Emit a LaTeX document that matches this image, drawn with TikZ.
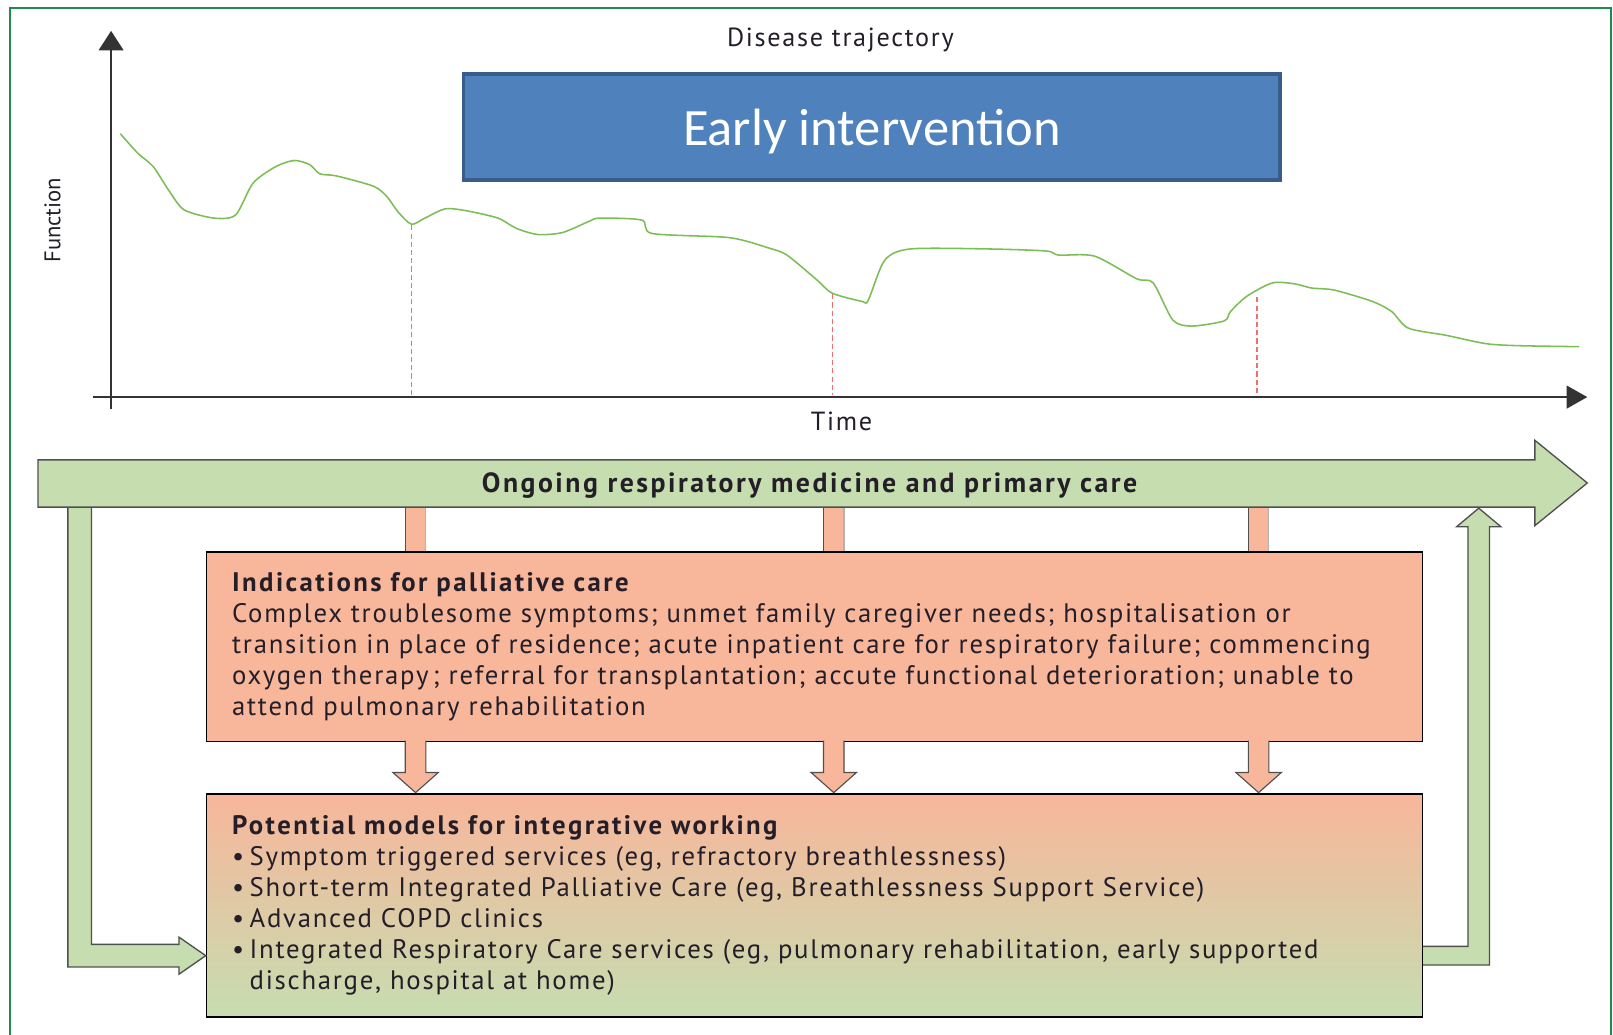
\documentclass[tikz,border=0pt]{standalone}
\usepackage{fontspec}
\setmainfont{PT Sans}[LetterSpace=6.5,BoldFeatures={LetterSpace=9}]
\newfontfamily\calfont{Carlito}
\newfontfamily\plainfont{PT Sans}
\usetikzlibrary{arrows.meta}
\definecolor{framegreen}{RGB}{30,140,80}
\definecolor{bluefill}{RGB}{79,129,189}
\definecolor{blueedge}{RGB}{56,93,138}
\definecolor{greenfill}{RGB}{198,221,176}
\definecolor{pinkfill}{RGB}{248,182,155}
\definecolor{curvegreen}{RGB}{122,190,84}
\definecolor{dashred}{RGB}{240,110,110}
\definecolor{edgegray}{RGB}{80,80,80}
\definecolor{txt}{RGB}{35,30,40}
\begin{document}
\begin{tikzpicture}[x=1pt,y=-1pt,
  axisline/.style={line width=2pt,black!80},
  marker/.style={dashred,line width=1.3pt,dash pattern=on 5pt off 3pt},
  blockarrow/.style={fill=greenfill,draw=edgegray,line width=1.3pt,line join=miter},
  pinkarrow/.style={fill=pinkfill,draw=edgegray,line width=1.1pt,line join=miter},
  infobox/.style={draw=black,line width=1.4pt,text width=1132pt,align=left,inner xsep=25pt,inner ysep=0pt,
    font=\fontsize{26}{30}\selectfont,text=txt,anchor=north west},
  lbl/.style={font=\fontsize{25.5}{28}\selectfont,text=txt,inner sep=0pt}]
\useasboundingbox (0,0) rectangle (1568,1006);
\fill[white] (0,0) rectangle (1568,1006);
% outer frame
\draw[framegreen,line width=1.6pt] (10,1020) -- (10,8) -- (1566,8) -- (1566,1020);

% axes
\draw[axisline,-{Triangle[length=19pt,width=24pt]}] (108,398) -- (108,30);
\draw[axisline,-{Triangle[length=20pt,width=22pt]}] (90,386) -- (1543,386);
\node[lbl,rotate=90,font=\plainfont\fontsize{22}{25}\selectfont] (fn) at (51,214) {Function};
\node[lbl] (dt) at (817,39) {Disease trajectory};
\node[lbl] (tm) at (818,410) {Time};

% disease curve
\draw[curvegreen,line width=1.5pt] plot[smooth,tension=0.45] coordinates {
(117,130) (134,149) (149,162) (164,185) (179,204) (208,212) (229,209) (246,178) (268,162) (286,156)
(301,160) (311,169) (327,171) (363,181) (376,191) (387,206) (400,218) (413,212) (433,203) (454,205)
(484,212) (502,222) (523,228) (547,226) (573,215) (583,212) (624,214) (634,227) (709,231) (747,241)
(765,248) (794,272) (809,285) (838,293) (844,292) (860,253) (885,242) (960,242) (1017,244) (1029,248)
(1064,249) (1105,271) (1121,275) (1140,311) (1158,317) (1190,312) (1196,303) (1212,288) (1237,275)
(1259,276) (1275,280) (1297,282) (1334,293) (1353,303) (1369,319) (1406,326) (1444,334) (1475,336) (1535,337)};
\draw[marker] (400,219) -- (400,384);
\draw[marker] (809,286) -- (809,384);
\draw[marker] (1222,289) -- (1222,384);

% early intervention box
\node[draw=blueedge,fill=bluefill,line width=3.5pt,minimum width=794pt,minimum height=103pt,text depth=0pt,
  text=white,font=\calfont\fontsize{51}{54}\selectfont] (ei) at (847.5,123.5) {Early intervention};

% boxes
\node[infobox,fill=pinkfill,minimum height=184pt] (ind) at (200,536) {%
\textbf{Indications for palliative care}\\
Complex troublesome symptoms; unmet family caregiver needs; hospitalisation or\\
transition in place of residence; acute inpatient care for respiratory failure; commencing\\
oxygen therapy\,; referral for transplantation; accute functional deterioration; unable to\\
attend pulmonary rehabilitation};
\node[infobox,top color=pinkfill,bottom color=greenfill,minimum height=217pt] (mod) at (200,771) {%
\textbf{Potential models for integrative working}\\
\makebox[17pt][l]{\textbullet}Symptom triggered services (eg, refractory breathlessness)\\
\makebox[17pt][l]{\textbullet}Short-term Integrated Palliative Care (eg, Breathlessness Support Service)\\
\makebox[17pt][l]{\textbullet}Advanced COPD clinics\\
\makebox[17pt][l]{\textbullet}Integrated Respiratory Care services (eg, pulmonary rehabilitation, early supported\\
\hspace*{17pt}discharge, hospital at home)};

% connectors from main arrow to indications box
\foreach \cx in {404,810.5,1223.5}{
  \fill[pinkfill] ({\cx-10},493) rectangle ({\cx+10},536);
  \draw[edgegray,line width=1.1pt] ({\cx-10},493) -- ({\cx-10},536);
  \draw[gray!60,line width=1.1pt] ({\cx+10},493) -- ({\cx+10},536);
  \draw[pinkarrow] ({\cx-10},720) -- ({\cx-10},751) -- ({\cx-22},751) -- (\cx,770.5) -- ({\cx+22},751) -- ({\cx+10},751) -- ({\cx+10},720);
}

% main arrow
\draw[blockarrow] (37,447) -- (1492,447) -- (1492,428) -- (1543,469.5) -- (1492,511) -- (1492,493) -- (37,493) -- cycle;
\node[font=\bfseries\fontsize{27}{30}\selectfont,text=txt] (main) at (787,471.5) {Ongoing respiratory medicine and primary care};

% left L arrow
\fill[greenfill] (66,494) -- (66,940) -- (174,940) -- (174,947) -- (mod.west |- 0,929) -- (174,911) -- (174,918) -- (89,918) -- (89,494) -- cycle;
\draw[edgegray,line width=1.3pt,line join=miter] (66,494) -- (66,940) -- (174,940) -- (174,947) -- (mod.west |- 0,929) -- (174,911) -- (174,918) -- (89,918) -- (89,494);
% right arrow back to main
\fill[greenfill] (mod.east |- 0,938) -- (1448,938) -- (1448,512) -- (1459,512) -- (1437.5,494) -- (1416,512) -- (1427,512) -- (1427,920) -- (mod.east |- 0,920) -- cycle;
\draw[edgegray,line width=1.3pt,line join=miter] (mod.east |- 0,938) -- (1448,938) -- (1448,512) -- (1459,512) -- (1437.5,494) -- (1416,512) -- (1427,512) -- (1427,920) -- (mod.east |- 0,920);
\end{tikzpicture}
\end{document}
